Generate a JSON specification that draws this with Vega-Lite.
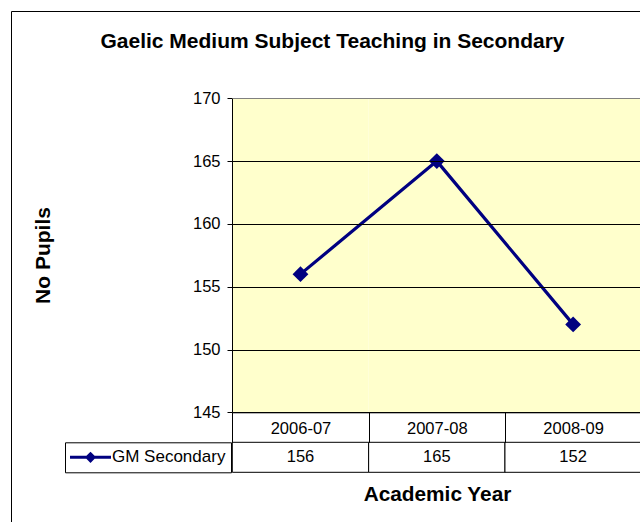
{
  "$schema": "https://vega.github.io/schema/vega-lite/v6.json",
  "width": 640,
  "height": 520,
  "autosize": {"type": "none"},
  "padding": {"left": 11, "top": 11, "right": -11, "bottom": -9},
  "background": "white",
  "config": {
    "view": {"stroke": "black", "strokeWidth": 1, "fill": "white"},
    "font": "Liberation Sans"
  },
  "title": {
    "text": "Gaelic Medium Subject Teaching in Secondary",
    "anchor": "middle",
    "frame": "group",
    "font": "Liberation Sans",
    "fontSize": 21,
    "fontWeight": "bold",
    "color": "black",
    "baseline": "alphabetic",
    "offset": 0,
    "dy": 57.6,
    "dx": 1.5
  },
  "data": {
    "values": [
      {"year": "2006-07", "pupils": 156, "series": "GM Secondary"},
      {"year": "2007-08", "pupils": 165, "series": "GM Secondary"},
      {"year": "2008-09", "pupils": 152, "series": "GM Secondary"}
    ]
  },
  "layer": [
    {
      "layer": [
        {
          "mark": {"type": "rect", "fill": "#FFFFCC", "stroke": null},
          "encoding": {
            "x": {
              "field": "year",
              "type": "ordinal",
              "scale": {
                "type": "band",
                "domain": ["2006-07", "2007-08", "2008-09"],
                "range": [221.3, 630.3],
                "paddingInner": 0,
                "paddingOuter": 0
              },
              "axis": {
                "orient": "bottom",
                "offset": -118.7,
                "domainColor": "black",
                "domainWidth": 1,
                "tickColor": "black",
                "tickWidth": 1,
                "tickSize": 30,
                "tickBand": "extent",
                "labelFont": "Liberation Sans",
                "labelFontSize": 16.5,
                "labelColor": "black",
                "labelPadding": -9,
                "labelBaseline": "alphabetic",
                "labelAngle": 0,
                "grid": false,
                "title": "Academic Year",
                "titleFont": "Liberation Sans",
                "titleFontSize": 20.8,
                "titleFontWeight": "bold",
                "titleColor": "black",
                "titleX": 426,
                "titleY": 87.7,
                "titleAlign": "center",
                "titleBaseline": "alphabetic"
              }
            },
            "y": {
              "datum": 170,
              "type": "quantitative",
              "scale": {"domain": [145, 170], "range": [401.3, 87.3], "nice": false, "zero": false},
              "axis": {
                "values": [145, 150, 155, 160, 165, 170],
                "offset": -221,
                "zindex": 1,
                "domainColor": "black",
                "domainWidth": 1,
                "tickColor": "black",
                "tickSize": 5,
                "labelFont": "Liberation Sans",
                "labelFontSize": 16.5,
                "labelColor": "black",
                "labelPadding": 7,
                "grid": true,
                "gridColor": {"condition": {"test": "datum.value === 170", "value": "#808080"}, "value": "black"},
                "gridOpacity": 1,
                "gridWidth": 1,
                "title": "No Pupils",
                "titleFont": "Liberation Sans",
                "titleFontSize": 21,
                "titleFontWeight": "bold",
                "titleColor": "black",
                "titleX": -183,
                "titleY": 244,
                "titleAngle": -90,
                "titleAlign": "center",
                "titleBaseline": "alphabetic"
              }
            },
            "y2": {"datum": 145}
          }
        },
        {
          "mark": {"type": "line", "strokeWidth": 3.2},
          "encoding": {
            "x": {"field": "year", "type": "ordinal"},
            "y": {"field": "pupils", "type": "quantitative"},
            "color": {
              "field": "series",
              "type": "nominal",
              "scale": {"range": ["#000080"]},
              "legend": {
                "orient": "none",
                "legendX": 54,
                "legendY": 431.3,
                "title": null,
                "strokeColor": "black",
                "fillColor": "white",
                "padding": 5,
                "labelFont": "Liberation Sans",
                "labelFontSize": 17,
                "labelColor": "black",
                "symbolType": "M-2.41,0H2.41M0,-0.41L0.41,0L0,0.41L-0.41,0Z",
                "symbolSize": 289,
                "symbolStrokeWidth": 3,
                "symbolOffset": 10.5,
                "labelOffset": 11.5,
                "symbolFillColor": "#000080",
                "symbolStrokeColor": "#000080",
                "encode": {
                  "symbols": {
                    "update": {
                      "fill": {"value": "#000080"},
                      "stroke": {"value": "#000080"},
                      "strokeWidth": {"value": 3},
                      "opacity": {"value": 1}
                    }
                  }
                }
              }
            }
          }
        },
        {
          "mark": {"type": "point", "shape": "diamond", "filled": true, "size": 250, "color": "#000080", "opacity": 1},
          "encoding": {
            "x": {"field": "year", "type": "ordinal"},
            "y": {"field": "pupils", "type": "quantitative"}
          }
        }
      ]
    },
    {
      "layer": [
        {
          "mark": {"type": "rect", "fill": "white", "stroke": "black", "strokeWidth": 1},
          "encoding": {
            "x": {"field": "year", "type": "ordinal"},
            "y": {
              "field": "series",
              "type": "nominal",
              "scale": {"type": "band", "range": [431.3, 461.3], "paddingInner": 0, "paddingOuter": 0},
              "axis": null
            }
          }
        },
        {
          "mark": {"type": "text", "font": "Liberation Sans", "fontSize": 16.5, "color": "black", "baseline": "middle"},
          "encoding": {
            "x": {"field": "year", "type": "ordinal"},
            "y": {"field": "series", "type": "nominal"},
            "text": {"field": "pupils", "type": "quantitative"}
          }
        }
      ]
    }
  ],
  "resolve": {"scale": {"y": "independent"}}
}
